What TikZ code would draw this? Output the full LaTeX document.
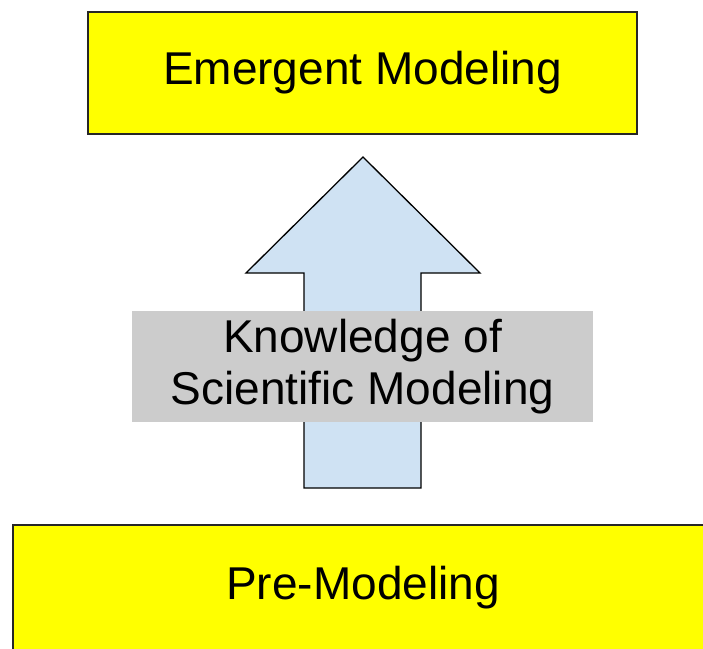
\documentclass[tikz,border=0pt]{standalone}
\usepackage{fontspec}
\setmainfont{Liberation Sans}
\usepackage{xcolor}
\usetikzlibrary{positioning}

\definecolor{stageyellow}{HTML}{FFFF00}
\definecolor{arrowblue}{HTML}{CFE2F3}
\definecolor{labelgray}{HTML}{CCCCCC}

\begin{document}
\begin{tikzpicture}[
		x=1pt, y=-1pt,
		stage box/.style={
			rectangle, draw=black!85, line width=1.4pt, fill=stageyellow,
			inner sep=0pt, align=center,
			font=\fontsize{46}{52}\selectfont
		},
		knowledge label/.style={
			rectangle, fill=labelgray, inner sep=0pt, align=center,
			font=\fontsize{46}{52}\selectfont
		},
	]
		\useasboundingbox (0,0) rectangle (703,648);
		\clip (0,0) rectangle (703,648);
		\node[
			stage box, minimum width=549pt, minimum height=122pt
		] (emergent) at (362.5, 73) {Emergent Modeling};
		\node[
			stage box, minimum width=700pt, minimum height=126pt
		] (premodel) at (363, 588) {Pre-Modeling};
		% the big upward arrow, drawn as a plain outline
		\draw[fill=arrowblue, line width=1.3pt, line join=miter]
			(363,157) -- (480,273) -- (421,273) -- (421,488)
			-- (304,488) -- (304,273) -- (246,273) -- cycle;
		\node[
			knowledge label, minimum width=461pt, minimum height=111pt
		] (knowledge) at (362.5, 366.5) {Knowledge of\\Scientific Modeling};
	\end{tikzpicture}
\end{document}
